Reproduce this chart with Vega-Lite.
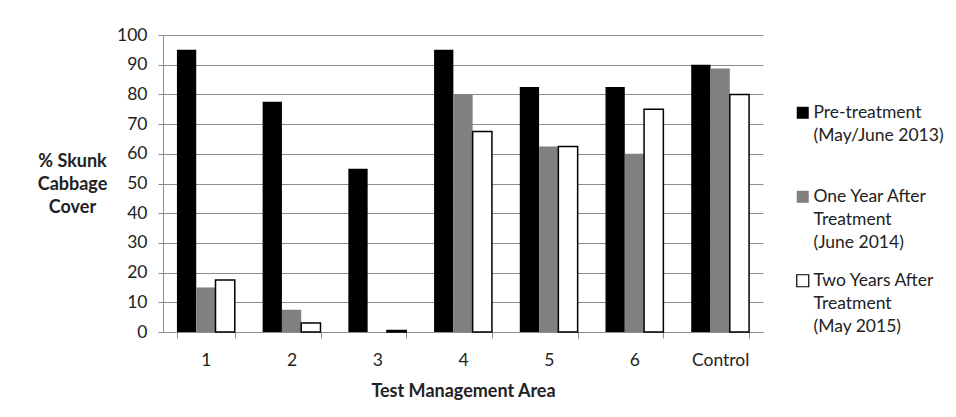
{
  "$schema": "https://vega.github.io/schema/vega-lite/v6.json",
  "width": 600,
  "height": 297,
  "autosize": "none",
  "padding": {"left": 163, "top": 35, "right": 193, "bottom": 85},
  "background": "white",
  "config": {
    "view": {"stroke": null},
    "font": "Lato",
    "axis": {"labelFont": "Lato", "titleFont": "Lato"},
    "legend": {"labelFont": "Lato"}
  },
  "data": {
    "values": [
      {"area": "1", "series": "Pre-treatment (May/June 2013)", "value": 95},
      {"area": "1", "series": "One Year After Treatment (June 2014)", "value": 15},
      {"area": "1", "series": "Two Years After Treatment (May 2015)", "value": 17.5},
      {"area": "2", "series": "Pre-treatment (May/June 2013)", "value": 77.5},
      {"area": "2", "series": "One Year After Treatment (June 2014)", "value": 7.5},
      {"area": "2", "series": "Two Years After Treatment (May 2015)", "value": 3},
      {"area": "3", "series": "Pre-treatment (May/June 2013)", "value": 55},
      {"area": "3", "series": "One Year After Treatment (June 2014)", "value": 0},
      {"area": "3", "series": "Two Years After Treatment (May 2015)", "value": 0.5},
      {"area": "4", "series": "Pre-treatment (May/June 2013)", "value": 95},
      {"area": "4", "series": "One Year After Treatment (June 2014)", "value": 80},
      {"area": "4", "series": "Two Years After Treatment (May 2015)", "value": 67.5},
      {"area": "5", "series": "Pre-treatment (May/June 2013)", "value": 82.5},
      {"area": "5", "series": "One Year After Treatment (June 2014)", "value": 62.5},
      {"area": "5", "series": "Two Years After Treatment (May 2015)", "value": 62.5},
      {"area": "6", "series": "Pre-treatment (May/June 2013)", "value": 82.5},
      {"area": "6", "series": "One Year After Treatment (June 2014)", "value": 60},
      {"area": "6", "series": "Two Years After Treatment (May 2015)", "value": 75},
      {"area": "Control", "series": "Pre-treatment (May/June 2013)", "value": 90},
      {"area": "Control", "series": "One Year After Treatment (June 2014)", "value": 88.75},
      {"area": "Control", "series": "Two Years After Treatment (May 2015)", "value": 80}
    ]
  },
  "mark": {"type": "bar", "strokeWidth": 1.5},
  "encoding": {
    "x": {
      "field": "area",
      "type": "nominal",
      "sort": ["1", "2", "3", "4", "5", "6", "Control"],
      "scale": {"paddingInner": 0.325, "paddingOuter": 0.1625},
      "axis": {
        "title": "Test Management Area",
        "titleFontSize": 18,
        "titleFontWeight": "bold",
        "titleColor": "#222",
        "titleBaseline": "alphabetic",
        "titleY": 64,
        "labelAngle": 0,
        "labelFontSize": 17.5,
        "labelColor": "#222",
        "labelPadding": 13,
        "tickBand": "extent",
        "tickSize": 6,
        "tickColor": "#8c8c8c",
        "domainColor": "#8c8c8c",
        "grid": false
      }
    },
    "xOffset": {
      "field": "series",
      "type": "nominal",
      "scale": {
        "domain": ["Pre-treatment (May/June 2013)", "One Year After Treatment (June 2014)", "Two Years After Treatment (May 2015)"],
        "paddingInner": 0,
        "paddingOuter": 0
      }
    },
    "y": {
      "field": "value",
      "type": "quantitative",
      "scale": {"domain": [0, 100], "nice": false},
      "axis": {
        "values": [0, 10, 20, 30, 40, 50, 60, 70, 80, 90, 100],
        "title": ["% Skunk", "Cabbage", "Cover"],
        "titleAngle": 0,
        "titleAlign": "center",
        "titleBaseline": "middle",
        "titleX": -91,
        "titleY": 126,
        "titleFontSize": 18,
        "titleFontWeight": "bold",
        "titleColor": "#222",
        "titleLineHeight": 23,
        "labelFontSize": 17.5,
        "labelColor": "#222",
        "labelPadding": 11,
        "tickSize": 5,
        "tickColor": "#8c8c8c",
        "domainColor": "#8c8c8c",
        "gridColor": "#8c8c8c",
        "gridWidth": 1
      }
    },
    "color": {
      "field": "series",
      "type": "nominal",
      "scale": {
        "domain": ["Pre-treatment (May/June 2013)", "One Year After Treatment (June 2014)", "Two Years After Treatment (May 2015)"],
        "range": ["#000000", "#808080", "#ffffff"]
      },
      "legend": {
        "title": null,
        "orient": "none",
        "legendX": 631,
        "legendY": 74,
        "symbolType": "M-1,-1.83H1V0.17H-1Z",
        "symbolSize": 144,
        "symbolOpacity": 1,
        "symbolStrokeWidth": 1.2,
        "labelFontSize": 17.5,
        "labelColor": "#222",
        "labelBaseline": "alphabetic",
        "labelLimit": 0,
        "labelOffset": 2,
        "rowPadding": 19,
        "labelExpr": "datum.label == 'Pre-treatment (May/June 2013)' ? ['Pre-treatment', '(May/June 2013)', ' '] : datum.label == 'One Year After Treatment (June 2014)' ? ['One Year After', 'Treatment', '(June 2014)'] : ['Two Years After', 'Treatment', '(May 2015)']",
        "encode": {"labels": {"update": {"lineHeight": {"value": 23}}}}
      }
    },
    "stroke": {
      "field": "series",
      "type": "nominal",
      "scale": {
        "domain": ["Pre-treatment (May/June 2013)", "One Year After Treatment (June 2014)", "Two Years After Treatment (May 2015)"],
        "range": ["transparent", "transparent", "#000000"]
      },
      "legend": null
    }
  }
}
